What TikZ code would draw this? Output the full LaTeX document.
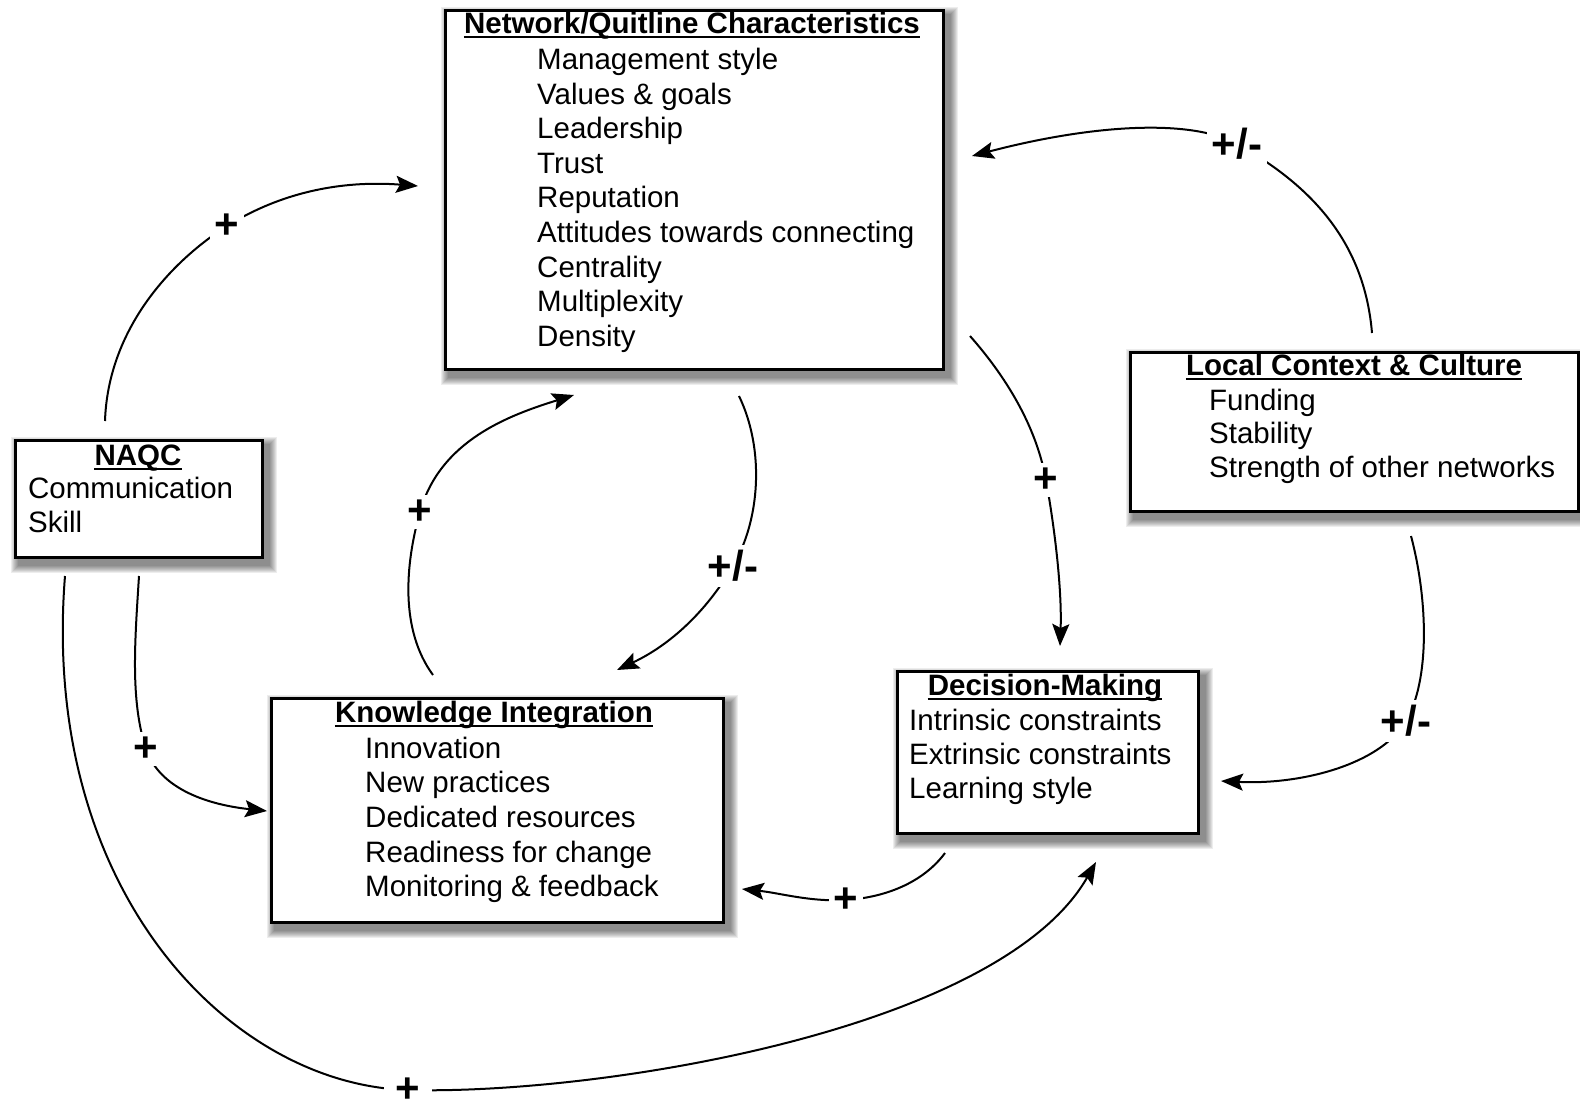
\documentclass[tikz,border=0pt]{standalone}
\usepackage{fontspec}
\setmainfont{Liberation Sans}
\usetikzlibrary{arrows.meta,backgrounds,calc}
\newcommand\myshadow[1]{%
  \foreach \r in {1,...,8}{%
    \fill[black,opacity=0.07] ($(#1.north west)+(5-\r,6-\r)$) rectangle ($(#1.south east)+(5+\r,6+\r)$);}}
\begin{document}
\begin{tikzpicture}[x=1pt,y=-1pt,
  box/.style={draw, line width=2.5pt, fill=white, inner sep=0pt, anchor=north west},
  ttl/.style={font=\fontsize{29.5}{34.6}\selectfont\bfseries, inner sep=0pt, anchor=base},
  itm/.style={font=\fontsize{29.5}{34.6}\selectfont, inner sep=0pt, anchor=base west},
  ul/.style={line width=1.6pt},
  lbl/.style={font=\fontsize{42}{44}\selectfont\bfseries, fill=white, inner sep=5pt},
  arr/.style={line width=2pt, -{Stealth[length=22pt,width=17pt,inset=4pt]}},
]
\useasboundingbox (0,0) rectangle (1580,1111);

% boxes
\node[box, minimum width=498pt, minimum height=359pt] (net) at (444,9) {};
\node[box, minimum width=247pt, minimum height=117pt] (naqc) at (14,439) {};
\node[box, minimum width=301pt, minimum height=162pt] (dec) at (896,670) {};
\node[box, minimum width=448pt, minimum height=159pt] (loc) at (1129,351) {};
\node[box, minimum width=452pt, minimum height=224pt] (know) at (270,697) {};

\begin{pgfonlayer}{background}
  \myshadow{net}\myshadow{naqc}\myshadow{dec}\myshadow{loc}\myshadow{know}
\end{pgfonlayer}

% titles
\node[ttl] (net-t) at (692,33) {Network/Quitline Characteristics};
\node[ttl] (naqc-t) at (138,465) {NAQC};
\node[ttl] (dec-t) at (1045,695) {Decision-Making};
\node[ttl] (loc-t) at (1354,375) {Local Context \& Culture};
\node[ttl] (know-t) at (494,722) {Knowledge Integration};
\foreach \n in {net-t,naqc-t,dec-t,loc-t,know-t}
  \draw[ul] ([yshift=-4pt]\n.base west) -- ([yshift=-4pt]\n.base east);

% items
\foreach \t [count=\i] in {Management style,Values \& goals,Leadership,Trust,Reputation,Attitudes towards connecting,Centrality,Multiplexity,Density}
  \node[itm] (net-\i) at (537,{69.5+34.6*(\i-1)}) {\t};
\foreach \t [count=\i] in {Communication,Skill}
  \node[itm] (naqc-\i) at (28,{498+34*(\i-1)}) {\t};
\foreach \t [count=\i] in {Intrinsic constraints,Extrinsic constraints,Learning style}
  \node[itm] (dec-\i) at (909,{730+34*(\i-1)}) {\t};
\foreach \t [count=\i] in {Funding,Stability,Strength of other networks}
  \node[itm] (loc-\i) at (1209,{410+33.7*(\i-1)}) {\t};
\foreach \t [count=\i] in {Innovation,New practices,Dedicated resources,Readiness for change,Monitoring \& feedback}
  \node[itm] (know-\i) at (365,{758+34.7*(\i-1)}) {\t};

% connector end points
\coordinate (s1) at (105,421);  \coordinate (e1) at (418,186);
\coordinate (s2) at (1372,333); \coordinate (e2) at (972,156);
\coordinate (s3) at (970,336);  \coordinate (e3) at (1060,646);
\coordinate (s4) at (739,396);  \coordinate (e4) at (617,670);
\coordinate (s5) at (433,675);  \coordinate (e5) at (574,395);
\coordinate (s6) at (139,576);  \coordinate (e6) at (267,811);
\coordinate (s7) at (945,853);  \coordinate (e7) at (742,889);
\coordinate (s8) at (1411,536); \coordinate (e8) at (1221,781);
\coordinate (s9) at (65,576);   \coordinate (e9) at (1096,862);

% connectors
\draw[arr] (s1) .. controls (108,330) and (170,262) .. (227,226) node[lbl] (l1) {+}
                .. controls (280,193) and (340,180) .. (e1);
\draw[arr] (s2) .. controls (1365,250) and (1320,190) .. (1237,144) node[lbl] (l2) {+/-}
                .. controls (1190,118) and (1090,125) .. (e2);
\draw[arr] (s3) .. controls (1000,370) and (1035,420) .. (1046,480) node[lbl] (l3) {+}
                .. controls (1055,530) and (1062,590) .. (e3);
\draw[arr] (s4) .. controls (765,450) and (760,520) .. (733,566) node[lbl] (l4) {+/-}
                .. controls (706,612) and (670,645) .. (e4);
\draw[arr] (s5) .. controls (400,630) and (405,565) .. (420,512) node[lbl] (l5) {+}
                .. controls (440,440) and (510,415) .. (e5);
\draw[arr] (s6) .. controls (135,640) and (130,700) .. (146,749) node[lbl] (l6) {+}
                .. controls (160,790) and (210,805) .. (e6);
\draw[arr] (s7) .. controls (925,880) and (890,897) .. (846,900) node[lbl] (l7) {+}
                .. controls (810,902) and (780,893) .. (e7);
\draw[arr] (s8) .. controls (1428,600) and (1430,680) .. (1406,721) node[lbl] (l8) {+/-}
                .. controls (1380,765) and (1300,785) .. (e8);
\draw[arr] (s9) .. controls (40,890) and (230,1085) .. (408,1090) node[lbl, inner xsep=12pt, inner ysep=3pt] (l9) {+}
                .. controls (600,1095) and (1000,1030) .. (e9);
\end{tikzpicture}
\end{document}
